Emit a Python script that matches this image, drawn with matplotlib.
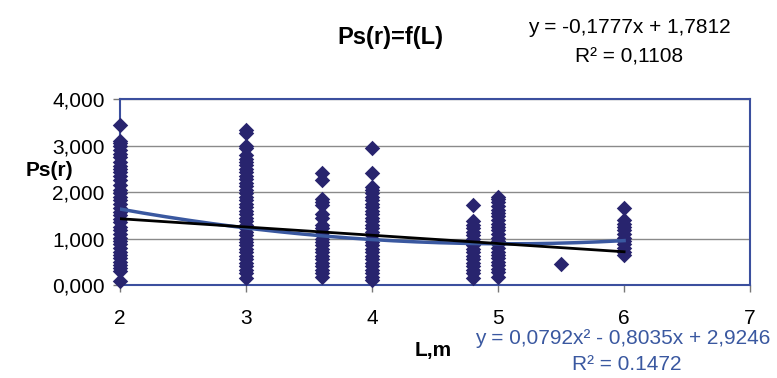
import matplotlib
matplotlib.use('Agg')
import numpy as np
import matplotlib.pyplot as plt

plt.rcParams['font.family'] = ['Liberation Sans', 'DejaVu Sans']

# distances L, m (one value per column of points)
L_values = [2, 3, 3.6, 4, 4.8, 5, 5.5, 6]

# measured Ps(r) for each distance
ps_2 = [3.44, 3.10, 3.05, 2.98, 2.90, 2.82, 2.75, 2.65, 2.55, 2.50, 2.42, 2.35,
        2.25, 2.15, 2.05, 1.98, 1.90, 1.82, 1.75, 1.65, 1.58, 1.50, 1.42, 1.35,
        1.25, 1.18, 1.10, 1.02, 0.95, 0.88, 0.80, 0.72, 0.65, 0.58, 0.50, 0.42,
        0.36, 0.30, 0.08]
ps_3 = [3.33, 3.27, 3.00, 2.95, 2.80, 2.72, 2.65, 2.58, 2.50, 2.42, 2.35, 2.28,
        2.20, 2.12, 2.05, 1.98, 1.90, 1.82, 1.75, 1.68, 1.60, 1.52, 1.45, 1.38,
        1.30, 1.22, 1.15, 1.08, 1.00, 0.92, 0.85, 0.78, 0.70, 0.62, 0.55, 0.48,
        0.40, 0.32, 0.25, 0.15]
ps_36 = [2.40, 2.25, 1.85, 1.78, 1.72, 1.52, 1.45, 1.28, 1.22, 1.15, 1.08, 1.00,
         0.92, 0.85, 0.78, 0.70, 0.62, 0.55, 0.48, 0.40, 0.32, 0.25, 0.18]
ps_4 = [2.95, 2.40, 2.10, 2.05, 1.98, 1.90, 1.82, 1.75, 1.68, 1.60, 1.52, 1.45,
        1.38, 1.30, 1.22, 1.15, 1.08, 1.00, 0.92, 0.85, 0.78, 0.70, 0.62, 0.55,
        0.48, 0.40, 0.32, 0.25, 0.18, 0.10]
ps_48 = [1.72, 1.38, 1.30, 1.22, 1.15, 1.08, 1.00, 0.92, 0.85, 0.78, 0.70, 0.62,
         0.55, 0.48, 0.40, 0.32, 0.25, 0.15]
ps_5 = [1.90, 1.85, 1.78, 1.70, 1.62, 1.55, 1.48, 1.40, 1.32, 1.25, 1.18, 1.10,
        1.02, 0.95, 0.88, 0.80, 0.72, 0.65, 0.58, 0.50, 0.42, 0.35, 0.28, 0.18]
ps_55 = [0.46]
ps_6 = [1.65, 1.40, 1.32, 1.25, 1.18, 1.10, 1.02, 0.95, 0.88, 0.80, 0.72, 0.65]
columns = [ps_2, ps_3, ps_36, ps_4, ps_48, ps_5, ps_55, ps_6]

# trendline coefficients shown on the chart
lin_coef = [-0.1777, 1.7812]
poly_coef = [0.0792, -0.8035, 2.9246]

y_ticks = [0, 1, 2, 3, 4]
x_ticks = [2, 3, 4, 5, 6, 7]

fig = plt.figure(figsize=(7.77, 3.78), dpi=100)
ax = fig.add_axes([0.1544, 0.246, 0.811, 0.492])

navy = '#28246e'
blue = '#3a58a0'

for L, col in zip(L_values, columns):
    ax.scatter(np.full(len(col), L), col, marker='D', s=62, color=navy,
               linewidths=0, zorder=3, clip_on=False)

xs = np.linspace(2, 6, 200)
ax.plot(xs, np.polyval(poly_coef, xs), color=blue, lw=2.5, zorder=4)
ax.plot(xs, np.polyval(lin_coef, xs), color='black', lw=2, zorder=5)

ax.set_xlim(2, 7)
ax.set_ylim(0, 4)
ax.set_xticks(x_ticks)
ax.set_xticklabels([str(t) for t in x_ticks])
ax.set_yticks(y_ticks)
ax.set_yticklabels([f"{t:.3f}".replace('.', ',') for t in y_ticks])
ax.tick_params(axis='both', labelsize=15, colors='#777777', labelcolor='black',
               length=5, width=1)
ax.tick_params(axis='x', pad=12)
ax.tick_params(axis='y', pad=6)

ax.grid(axis='y', color='#8a8a8a', lw=1)
ax.set_axisbelow(True)
for sp in ax.spines.values():
    sp.set_color('#3b4f9e')
    sp.set_linewidth(1.5)

fig.text(0.502, 0.9, 'Ps(r)=f(L)', fontsize=17, fontweight='bold',
         ha='center', va='center')
fig.text(0.81, 0.928, 'y = -0,1777x + 1,7812', fontsize=15, ha='center', va='center')
fig.text(0.81, 0.85, 'R² = 0,1108', fontsize=15, ha='center', va='center')
fig.text(0.063, 0.548, 'Ps(r)', fontsize=15, fontweight='bold', ha='center', va='center')
fig.text(0.557, 0.073, 'L,m', fontsize=15, fontweight='bold', ha='center', va='center')
fig.text(0.802, 0.105, 'y = 0,0792x² - 0,8035x + 2,9246', fontsize=15,
         color=blue, ha='center', va='center')
fig.text(0.806, 0.035, 'R² = 0.1472', fontsize=15, color=blue,
         ha='center', va='center')

fig.savefig('out.png', dpi=100)
